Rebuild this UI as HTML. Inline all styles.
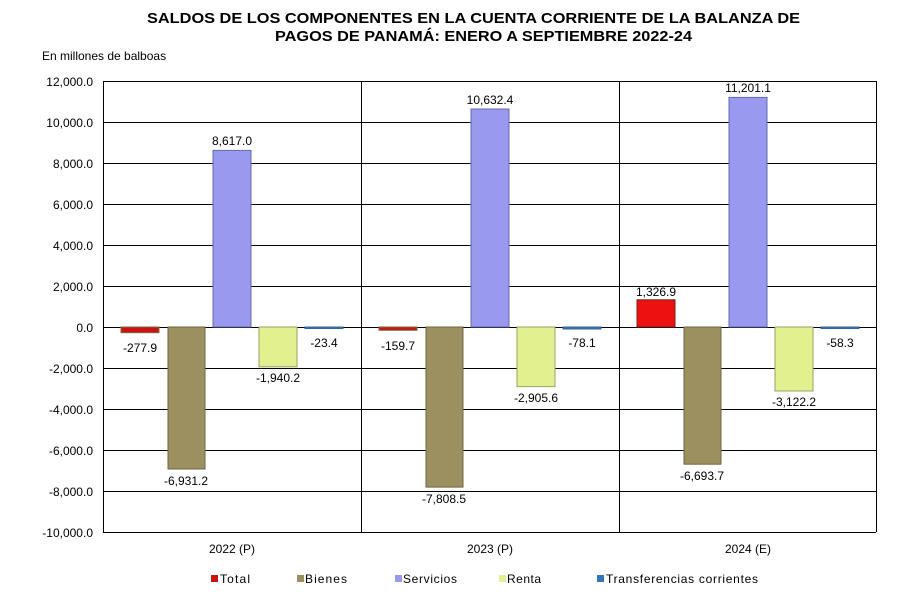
<!DOCTYPE html><html><head><meta charset="utf-8"><style>body{margin:0;background:#fff}svg{display:block}text{font-family:"Liberation Sans",Arial,sans-serif}</style></head><body>
<svg width="902" height="615" xmlns="http://www.w3.org/2000/svg">
<text x="147" y="23" font-size="15" font-weight="bold" textLength="653" lengthAdjust="spacingAndGlyphs">SALDOS DE LOS COMPONENTES EN LA CUENTA CORRIENTE DE LA BALANZA DE</text>
<text x="275" y="41" font-size="15" font-weight="bold" textLength="417" lengthAdjust="spacingAndGlyphs">PAGOS DE PANAMÁ: ENERO A SEPTIEMBRE 2022-24</text>
<text x="42" y="60" font-size="12">En millones de balboas</text>
<g stroke="#000" stroke-width="1">
<line x1="103" y1="81.5" x2="876" y2="81.5"/><line x1="103" y1="122.5" x2="876" y2="122.5"/><line x1="103" y1="163.5" x2="876" y2="163.5"/><line x1="103" y1="204.5" x2="876" y2="204.5"/><line x1="103" y1="245.5" x2="876" y2="245.5"/><line x1="103" y1="286.5" x2="876" y2="286.5"/><line x1="103" y1="327.5" x2="876" y2="327.5"/><line x1="103" y1="368.5" x2="876" y2="368.5"/><line x1="103" y1="409.5" x2="876" y2="409.5"/><line x1="103" y1="450.5" x2="876" y2="450.5"/><line x1="103" y1="491.5" x2="876" y2="491.5"/><line x1="103" y1="532.5" x2="876" y2="532.5"/>
<line x1="103.5" y1="81" x2="103.5" y2="532"/><line x1="361.5" y1="81" x2="361.5" y2="532"/><line x1="619.5" y1="81" x2="619.5" y2="532"/><line x1="876.5" y1="81" x2="876.5" y2="532"/>
</g>
<g font-size="12" text-anchor="end">
<text x="93" y="86">12,000.0</text><text x="93" y="127">10,000.0</text><text x="93" y="168">8,000.0</text><text x="93" y="209">6,000.0</text><text x="93" y="250">4,000.0</text><text x="93" y="291">2,000.0</text><text x="93" y="332">0.0</text><text x="93" y="373">-2,000.0</text><text x="93" y="414">-4,000.0</text><text x="93" y="455">-6,000.0</text><text x="93" y="496">-8,000.0</text><text x="93" y="537">-10,000.0</text>
</g>
<g font-size="12" text-anchor="middle">
<text x="232" y="553">2022 (P)</text><text x="490" y="553">2023 (P)</text><text x="748" y="553">2024 (E)</text>
</g>
<g stroke-width="1">
<rect x="121" y="327" width="38" height="5.7" fill="#cc1111" stroke="#7a6a40"/>
<rect x="168" y="327" width="37" height="142" fill="#9c9060" stroke="#6e6640"/>
<rect x="213" y="150.4" width="38" height="176.6" fill="#9999f0" stroke="#6868b0"/>
<rect x="259" y="327" width="38" height="39.8" fill="#e2f090" stroke="#9aa060"/>
<rect x="305" y="327" width="38" height="1.5" fill="#3377bb" stroke="#336699"/>
<rect x="379" y="327" width="38" height="3.3" fill="#cc1111" stroke="#7a6a40"/>
<rect x="426" y="327" width="37" height="160.1" fill="#9c9060" stroke="#6e6640"/>
<rect x="471" y="109" width="38" height="218" fill="#9999f0" stroke="#6868b0"/>
<rect x="517" y="327" width="38" height="59.6" fill="#e2f090" stroke="#9aa060"/>
<rect x="563" y="327" width="38" height="2" fill="#3377bb" stroke="#336699"/>
<rect x="637" y="299.8" width="38" height="27.2" fill="#ee1111" stroke="#7a2020"/>
<rect x="684" y="327" width="37" height="137.2" fill="#9c9060" stroke="#6e6640"/>
<rect x="729" y="97.4" width="38" height="229.6" fill="#9999f0" stroke="#6868b0"/>
<rect x="775" y="327" width="38" height="64" fill="#e2f090" stroke="#9aa060"/>
<rect x="821" y="327" width="38" height="1.5" fill="#3377bb" stroke="#336699"/>
</g>
<g font-size="12" text-anchor="middle">
<text x="140" y="352">-277.9</text><text x="186" y="485">-6,931.2</text><text x="232" y="145">8,617.0</text><text x="278" y="382">-1,940.2</text><text x="324" y="347">-23.4</text>
<text x="398" y="350">-159.7</text><text x="444" y="503">-7,808.5</text><text x="490" y="104">10,632.4</text><text x="536" y="402">-2,905.6</text><text x="582" y="347">-78.1</text>
<text x="656" y="296">1,326.9</text><text x="702" y="480">-6,693.7</text><text x="748" y="92">11,201.1</text><text x="794" y="406">-3,122.2</text><text x="840" y="347">-58.3</text>
</g>
<g font-size="12">
<rect x="211" y="575" width="7" height="7" fill="#cc1111"/><text x="220" y="583" textLength="30">Total</text>
<rect x="297" y="575" width="7" height="7" fill="#9c9060"/><text x="305" y="583" textLength="42">Bienes</text>
<rect x="395" y="575" width="7" height="7" fill="#9999f0"/><text x="403" y="583" textLength="54">Servicios</text>
<rect x="499" y="575" width="7" height="7" fill="#e2f090"/><text x="507" y="583" textLength="34">Renta</text>
<rect x="597" y="575" width="7" height="7" fill="#3377bb"/><text x="606" y="583" textLength="152">Transferencias corrientes</text>
</g>
</svg></body></html>
